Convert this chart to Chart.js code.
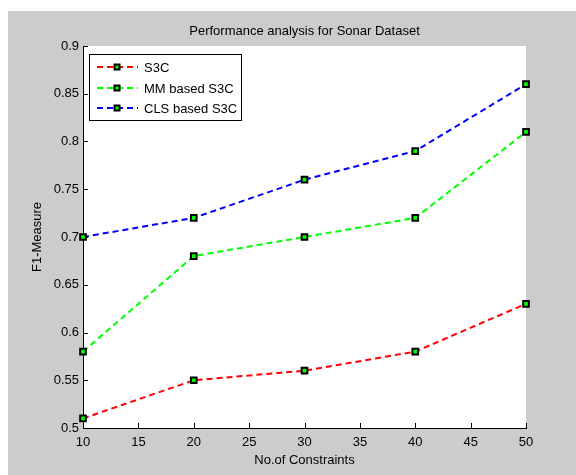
<!DOCTYPE html>
<html lang="en">
<head>
    <meta charset="UTF-8">
    <title>Performance analysis for Sonar Dataset</title>
    <script src="https://cdn.jsdelivr.net/npm/chart.js"></script>
    <style>
        body { margin: 0; background: #fff; }
        canvas { display: block; }
    </style>
</head>
<body>
    <canvas id="sonarChart" width="576" height="475"></canvas>
    <script>
        // data
        const constraints = [10, 20, 30, 40, 50];
        const s3c = [0.51, 0.55, 0.56, 0.58, 0.63];
        const mmS3c = [0.58, 0.68, 0.70, 0.72, 0.81];
        const clsS3c = [0.70, 0.72, 0.76, 0.79, 0.86];
        const seriesNames = ['S3C', 'MM based S3C', 'CLS based S3C'];
        const xTicks = [10, 15, 20, 25, 30, 35, 40, 45, 50];
        const yTicks = [0.5, 0.55, 0.6, 0.65, 0.7, 0.75, 0.8, 0.85, 0.9];

        const FONT = '"Liberation Sans", Arial, sans-serif';
        const colors = ['#ff0000', '#00ff00', '#0000ff'];

        function toPoints(ys) {
            return constraints.map((x, i) => ({ x: x, y: ys[i] }));
        }

        function makeSet(name, ys, color) {
            return {
                label: name,
                data: toPoints(ys),
                borderColor: color,
                borderWidth: 2,
                borderDash: [6, 4],
                pointStyle: 'rect',
                pointRadius: 4,
                pointHoverRadius: 4,
                pointBackgroundColor: '#00ff00',
                pointBorderColor: '#000',
                pointBorderWidth: 2,
                tension: 0,
                fill: false,
                clip: false
            };
        }

        // gray figure, white axes, inward ticks, title and legend box
        const matlabLook = {
            id: 'matlabLook',
            beforeDraw(chart) {
                const { ctx, chartArea: a } = chart;
                ctx.save();
                ctx.fillStyle = '#fff';
                ctx.fillRect(0, 0, chart.width, chart.height);
                ctx.fillStyle = '#cccccc';
                ctx.fillRect(8, 11, chart.width - 8, chart.height - 11);
                ctx.fillStyle = '#fff';
                ctx.fillRect(a.left, a.top, a.right - a.left, a.bottom - a.top);
                ctx.restore();
            },
            beforeDatasetsDraw(chart) {
                const { ctx, chartArea: a, scales } = chart;
                ctx.save();
                ctx.strokeStyle = '#000';
                ctx.lineWidth = 1;
                ctx.beginPath();
                scales.x.ticks.forEach(t => {
                    const px = Math.round(scales.x.getPixelForValue(t.value)) + 0.5;
                    ctx.moveTo(px, a.bottom);
                    ctx.lineTo(px, a.bottom - 5);
                });
                scales.y.ticks.forEach(t => {
                    const py = Math.round(scales.y.getPixelForValue(t.value)) + 0.5;
                    ctx.moveTo(a.left, py);
                    ctx.lineTo(a.left + 5, py);
                });
                ctx.stroke();
                ctx.restore();
            },
            afterDraw(chart) {
                const { ctx, chartArea: a } = chart;
                ctx.save();
                // title
                ctx.fillStyle = '#000';
                ctx.font = '13px ' + FONT;
                ctx.textAlign = 'center';
                ctx.textBaseline = 'middle';
                ctx.fillText('Performance analysis for Sonar Dataset', (a.left + a.right) / 2, 31);

                // legend
                const bx = 89.5, by = 54.5, bw = 152, bh = 66;
                ctx.fillStyle = '#fff';
                ctx.fillRect(bx, by, bw, bh);
                ctx.strokeStyle = '#000';
                ctx.lineWidth = 1;
                ctx.strokeRect(bx, by, bw, bh);
                const rows = [67, 88, 108];
                chart.data.datasets.forEach((ds, i) => {
                    const y = rows[i];
                    ctx.save();
                    ctx.strokeStyle = ds.borderColor;
                    ctx.lineWidth = 2;
                    ctx.setLineDash([6, 4]);
                    ctx.beginPath();
                    ctx.moveTo(97, y);
                    ctx.lineTo(138, y);
                    ctx.stroke();
                    ctx.restore();
                    ctx.fillStyle = '#00ff00';
                    ctx.strokeStyle = '#000';
                    ctx.lineWidth = 2;
                    ctx.fillRect(114.5, y - 2.5, 5, 5);
                    ctx.strokeRect(114.5, y - 2.5, 5, 5);
                    ctx.fillStyle = '#000';
                    ctx.textAlign = 'left';
                    ctx.fillText(ds.label, 144, y + 1);
                });
                ctx.restore();
            }
        };

        const ctx = document.getElementById('sonarChart').getContext('2d');
        const sonarChart = new Chart(ctx, {
            type: 'line',
            data: {
                datasets: [
                    makeSet(seriesNames[0], s3c, colors[0]),
                    makeSet(seriesNames[1], mmS3c, colors[1]),
                    makeSet(seriesNames[2], clsS3c, colors[2])
                ]
            },
            options: {
                responsive: false,
                animation: false,
                devicePixelRatio: 1,
                layout: { padding: { top: 46, right: 50, bottom: 0, left: 0 } },
                plugins: {
                    legend: { display: false },
                    title: { display: false },
                    tooltip: { enabled: false }
                },
                scales: {
                    x: {
                        type: 'linear',
                        min: 10,
                        max: 50,
                        afterBuildTicks: scale => { scale.ticks = xTicks.map(v => ({ value: v })); },
                        afterFit: scale => { scale.height = 47; },
                        grid: { display: false, drawTicks: false },
                        border: { display: true, color: '#000', width: 1 },
                        ticks: {
                            padding: 7,
                            color: '#000',
                            font: { family: FONT, size: 13 },
                            maxRotation: 0,
                            callback: v => String(v)
                        },
                        title: {
                            display: true,
                            text: 'No.of Constraints',
                            color: '#000',
                            font: { family: FONT, size: 13 },
                            padding: { top: 0, bottom: 7 }
                        }
                    },
                    y: {
                        type: 'linear',
                        min: 0.5,
                        max: 0.9,
                        afterBuildTicks: scale => { scale.ticks = yTicks.map(v => ({ value: v })); },
                        afterFit: scale => { scale.width = 83; },
                        grid: { display: false, drawTicks: false },
                        border: { display: true, color: '#000', width: 1 },
                        ticks: {
                            padding: 4,
                            color: '#000',
                            font: { family: FONT, size: 13 },
                            callback: v => String(+v.toFixed(2))
                        },
                        title: {
                            display: true,
                            text: 'F1-Measure',
                            color: '#000',
                            font: { family: FONT, size: 13 },
                            padding: { top: 30, bottom: 0 }
                        }
                    }
                }
            },
            plugins: [matlabLook]
        });
    </script>
</body>
</html>
